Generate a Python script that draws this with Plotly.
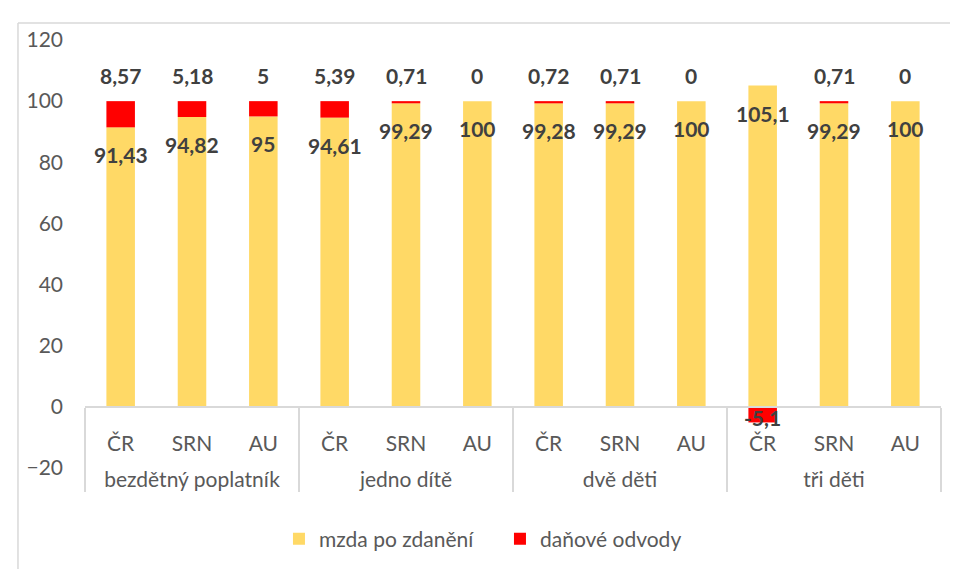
import plotly.graph_objects as go

groups = ["bezdětný poplatník", "jedno dítě", "dvě děti", "tři děti"]
countries = ["ČR", "SRN", "AU"]

net_wage = [91.43, 94.82, 95, 94.61, 99.29, 100, 99.28, 99.29, 100, 105.1, 99.29, 100]
tax = [8.57, 5.18, 5, 5.39, 0.71, 0, 0.72, 0.71, 0, -5.1, 0.71, 0]

y_ticks = [-20, 0, 20, 40, 60, 80, 100, 120]

# group labels get a leading line break so they sit lower, as in the original
x_groups = ["<br>" + g for g in groups for _ in countries]
x_countries = countries * len(groups)
x = [x_groups, x_countries]


def fmt(v):
    return f"{v:g}".replace(".", ",")


FONT = "Lato, 'Open Sans', sans-serif"
GRAY = "#595959"
LABEL = "#404040"
BORDER = "#D9D9D9"

fig = go.Figure()

fig.add_trace(
    go.Bar(
        x=x,
        y=net_wage,
        name="mzda po zdanění",
        marker=dict(color="#FFD966", line=dict(width=0)),
    )
)
fig.add_trace(
    go.Bar(
        x=x,
        y=tax,
        name="daňové odvody",
        marker=dict(color="#FF0000", line=dict(width=0)),
    )
)

annotations = []
for i, (w, t) in enumerate(zip(net_wage, tax)):
    # label of net wage sits just inside the top of the yellow bar
    annotations.append(
        dict(
            x=i, y=w, xref="x", yref="y",
            text=f"<b>{fmt(w)}</b>", showarrow=False,
            yanchor="top", yshift=-13,
            font=dict(family=FONT, size=21, color=LABEL),
        )
    )
    if t >= 0:
        annotations.append(
            dict(
                x=i, y=w + t, xref="x", yref="y",
                text=f"<b>{fmt(t)}</b>", showarrow=False,
                yanchor="bottom", yshift=11,
                font=dict(family=FONT, size=21, color=LABEL),
            )
        )
    else:
        annotations.append(
            dict(
                x=i, y=t / 2, xref="x", yref="y",
                text=f"<b>{fmt(t)}</b>", showarrow=False,
                yanchor="middle", yshift=-3,
                font=dict(family=FONT, size=21, color=LABEL),
            )
        )

fig.update_layout(
    barmode="relative",
    bargap=0.6,
    width=950,
    height=561,
    paper_bgcolor="white",
    plot_bgcolor="white",
    margin=dict(l=77, r=17, t=32, b=101, autoexpand=False),
    font=dict(family=FONT, size=21, color=GRAY),
    showlegend=True,
    legend=dict(
        orientation="h",
        x=0.2266, xanchor="left",
        y=-0.166, yanchor="middle",
        font=dict(family=FONT, size=21, color=GRAY),
        itemwidth=30,
        entrywidth=176,
    ),
    annotations=annotations,
    shapes=[
        # chart frame: only the top and left edges fall inside the picture
        dict(type="line", xref="paper", yref="paper",
             x0=-0.0783, x1=1.2, y0=1.0397, y1=1.0397,
             line=dict(color=BORDER, width=1.5)),
        dict(type="line", xref="paper", yref="paper",
             x0=-0.0783, x1=-0.0783, y0=-0.5, y1=1.0397,
             line=dict(color=BORDER, width=1.5)),
    ],
)

fig.update_yaxes(
    range=[-20, 120],
    tickvals=y_ticks,
    showgrid=False,
    zeroline=False,
    showline=False,
    ticklabelstandoff=21,
    tickfont=dict(family=FONT, size=21, color=GRAY),
)

fig.update_xaxes(
    type="multicategory",
    anchor="free",
    position=20 / 140,
    showline=True,
    linecolor=BORDER,
    linewidth=1.5,
    showdividers=True,
    dividercolor=BORDER,
    dividerwidth=1.5,
    showgrid=False,
    ticklabelstandoff=18,
    tickfont=dict(family=FONT, size=21, color=GRAY),
)

fig.write_html("out.html")
